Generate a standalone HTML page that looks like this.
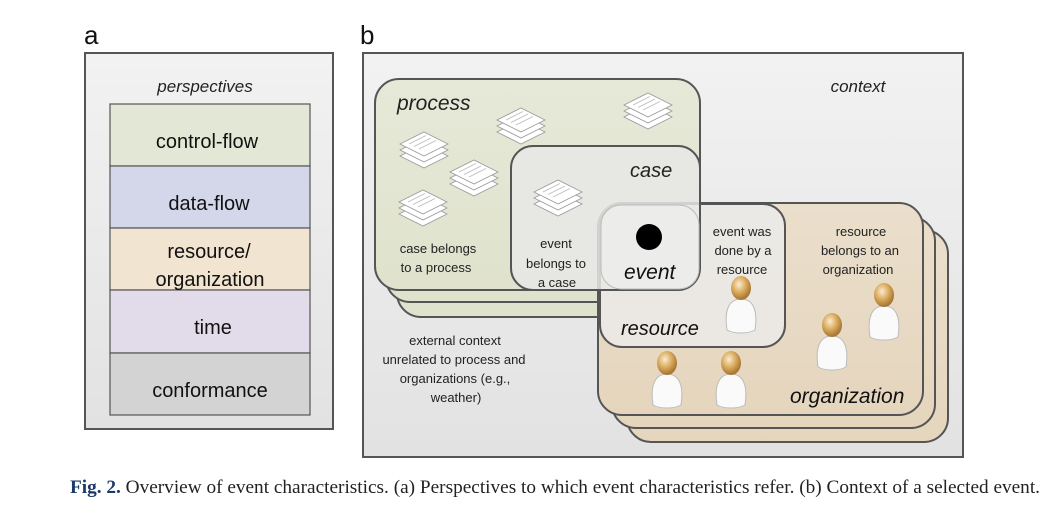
<!DOCTYPE html>
<html><head><meta charset="utf-8"><style>
body{margin:0;background:#fff;width:1061px;height:501px;overflow:hidden}
svg text{font-family:"Liberation Sans",sans-serif}
</style></head><body>
<svg width="1061" height="501" viewBox="0 0 1061 501" xmlns="http://www.w3.org/2000/svg">
<defs>
<linearGradient id="pg" x1="0" y1="0" x2="0" y2="1"><stop offset="0" stop-color="#f2f2f2"/><stop offset="1" stop-color="#e2e2e2"/></linearGradient>
<linearGradient id="gr" x1="0" y1="0" x2="0" y2="1"><stop offset="0" stop-color="#e6e9d8"/><stop offset="1" stop-color="#dfe2cc"/></linearGradient>
<linearGradient id="or" x1="0" y1="0" x2="0" y2="1"><stop offset="0" stop-color="#eadfcc"/><stop offset="1" stop-color="#e5d5bd"/></linearGradient>
<radialGradient id="hd" cx="0.4" cy="0.35" r="0.7"><stop offset="0" stop-color="#fbeccf"/><stop offset="0.5" stop-color="#d9a95c"/><stop offset="1" stop-color="#9a6a2a"/></radialGradient>
<g id="doc">
 <path d="M0,16 L24,4 L48,16 L24,28 Z" fill="#fff" stroke="#999" stroke-width="0.8"/>
 <path d="M0,10 L24,-2 L48,10 L24,22 Z" fill="#fff" stroke="#999" stroke-width="0.8"/>
 <path d="M0,4 L24,-8 L48,4 L24,16 Z" fill="#fff" stroke="#999" stroke-width="0.8"/>
 <path d="M9,4 L26,-4.5 M14,6.5 L31,-2 M19,9 L36,0.5" stroke="#bbb" stroke-width="0.8"/>
</g>
<g id="per">
 <path d="M-14,40 C-17,20 -12,9 0,9 C12,9 17,20 14,40 C7,44 -7,44 -14,40 Z" fill="#fafafa" stroke="#bbb" stroke-width="1"/>
 <ellipse cx="0" cy="-2" rx="10" ry="12" fill="url(#hd)"/>
</g>
</defs>

<text x="84" y="44" font-size="26" fill="#111">a</text>
<text x="360" y="44" font-size="26" fill="#111">b</text>

<rect x="85" y="53" width="248" height="376" fill="url(#pg)" stroke="#555" stroke-width="2"/>
<text x="205" y="92" font-size="17" font-style="italic" text-anchor="middle" fill="#222">perspectives</text>
<rect x="110" y="104" width="200" height="62" fill="#e3e8d6" stroke="#555" stroke-width="1.2"/>
<rect x="110" y="166" width="200" height="62" fill="#d4d6ea" stroke="#555" stroke-width="1.2"/>
<rect x="110" y="228" width="200" height="62" fill="#f1e4d0" stroke="#555" stroke-width="1.2"/>
<rect x="110" y="290" width="200" height="63" fill="#e2dcea" stroke="#555" stroke-width="1.2"/>
<rect x="110" y="353" width="200" height="62" fill="#d3d3d3" stroke="#555" stroke-width="1.2"/>
<g font-size="20" text-anchor="middle" fill="#111">
<text x="207" y="148">control-flow</text>
<text x="209" y="210">data-flow</text>
<text x="209" y="258">resource/</text>
<text x="210" y="286">organization</text>
<text x="213" y="334">time</text>
<text x="210" y="397">conformance</text>
</g>

<rect x="363" y="53" width="600" height="404" fill="url(#pg)" stroke="#555" stroke-width="2"/>
<text x="858" y="92" font-size="17" font-style="italic" text-anchor="middle" fill="#222">context</text>

<rect x="397" y="108" width="281" height="209" rx="24" fill="url(#gr)" stroke="#555" stroke-width="2"/>
<rect x="386" y="93" width="281" height="209" rx="24" fill="url(#gr)" stroke="#555" stroke-width="2"/>
<rect x="375" y="79" width="325" height="211" rx="24" fill="url(#gr)" stroke="#555" stroke-width="2"/>
<text x="397" y="110" font-size="21" font-style="italic" fill="#222">process</text>
<use href="#doc" x="400" y="140"/>
<use href="#doc" x="497" y="116"/>
<use href="#doc" x="624" y="101"/>
<use href="#doc" x="450" y="168"/>
<use href="#doc" x="399" y="198"/>
<g font-size="13" text-anchor="middle" fill="#222">
<text x="438" y="253">case belongs</text>
<text x="436" y="272">to a process</text>
</g>

<rect x="627" y="230" width="321" height="212" rx="24" fill="url(#or)" stroke="#555" stroke-width="2"/>
<rect x="612" y="217" width="323" height="211" rx="24" fill="url(#or)" stroke="#555" stroke-width="2"/>
<rect x="598" y="203" width="325" height="212" rx="24" fill="url(#or)" stroke="#555" stroke-width="2"/>

<rect x="600" y="204" width="185" height="143" rx="22" fill="#ebe9e6" fill-opacity="0.95" stroke="#555" stroke-width="2"/>
<rect x="511" y="146" width="189" height="144" rx="22" fill="#e8e8e6" fill-opacity="0.85" stroke="#555" stroke-width="2"/>
<rect x="601" y="205" width="98" height="84" rx="20" fill="#efeeec" fill-opacity="0.6" stroke="#bbb" stroke-width="1"/>
<use href="#doc" x="534" y="188"/>
<text x="630" y="177" font-size="20" font-style="italic" fill="#222">case</text>
<circle cx="649" cy="237" r="13" fill="#000"/>
<text x="624" y="279" font-size="21" font-style="italic" fill="#111">event</text>
<text x="621" y="335" font-size="20" font-style="italic" fill="#111">resource</text>
<text x="790" y="403" font-size="21" font-style="italic" fill="#111">organization</text>

<g font-size="13" text-anchor="middle" fill="#222">
<text x="556" y="248">event</text>
<text x="556" y="268">belongs to</text>
<text x="557" y="287">a case</text>
<text x="742" y="236">event was</text>
<text x="743" y="255">done by a</text>
<text x="742" y="274">resource</text>
<text x="861" y="236">resource</text>
<text x="860" y="255">belongs to an</text>
<text x="858" y="274">organization</text>
<text x="455" y="345">external context</text>
<text x="454" y="364">unrelated to process and</text>
<text x="455" y="383">organizations (e.g.,</text>
<text x="456" y="402">weather)</text>
</g>

<use href="#per" x="741" y="290"/>
<use href="#per" x="832" y="327"/>
<use href="#per" x="884" y="297"/>
<use href="#per" x="667" y="365"/>
<use href="#per" x="731" y="365"/>

<text x="70" y="493" font-size="19" fill="#222" style="font-family:'Liberation Serif',serif" textLength="970" lengthAdjust="spacingAndGlyphs"><tspan font-weight="bold" fill="#1a3a6a">Fig. 2.</tspan> Overview of event characteristics. (a) Perspectives to which event characteristics refer. (b) Context of a selected event.</text>
</svg>
</body></html>
